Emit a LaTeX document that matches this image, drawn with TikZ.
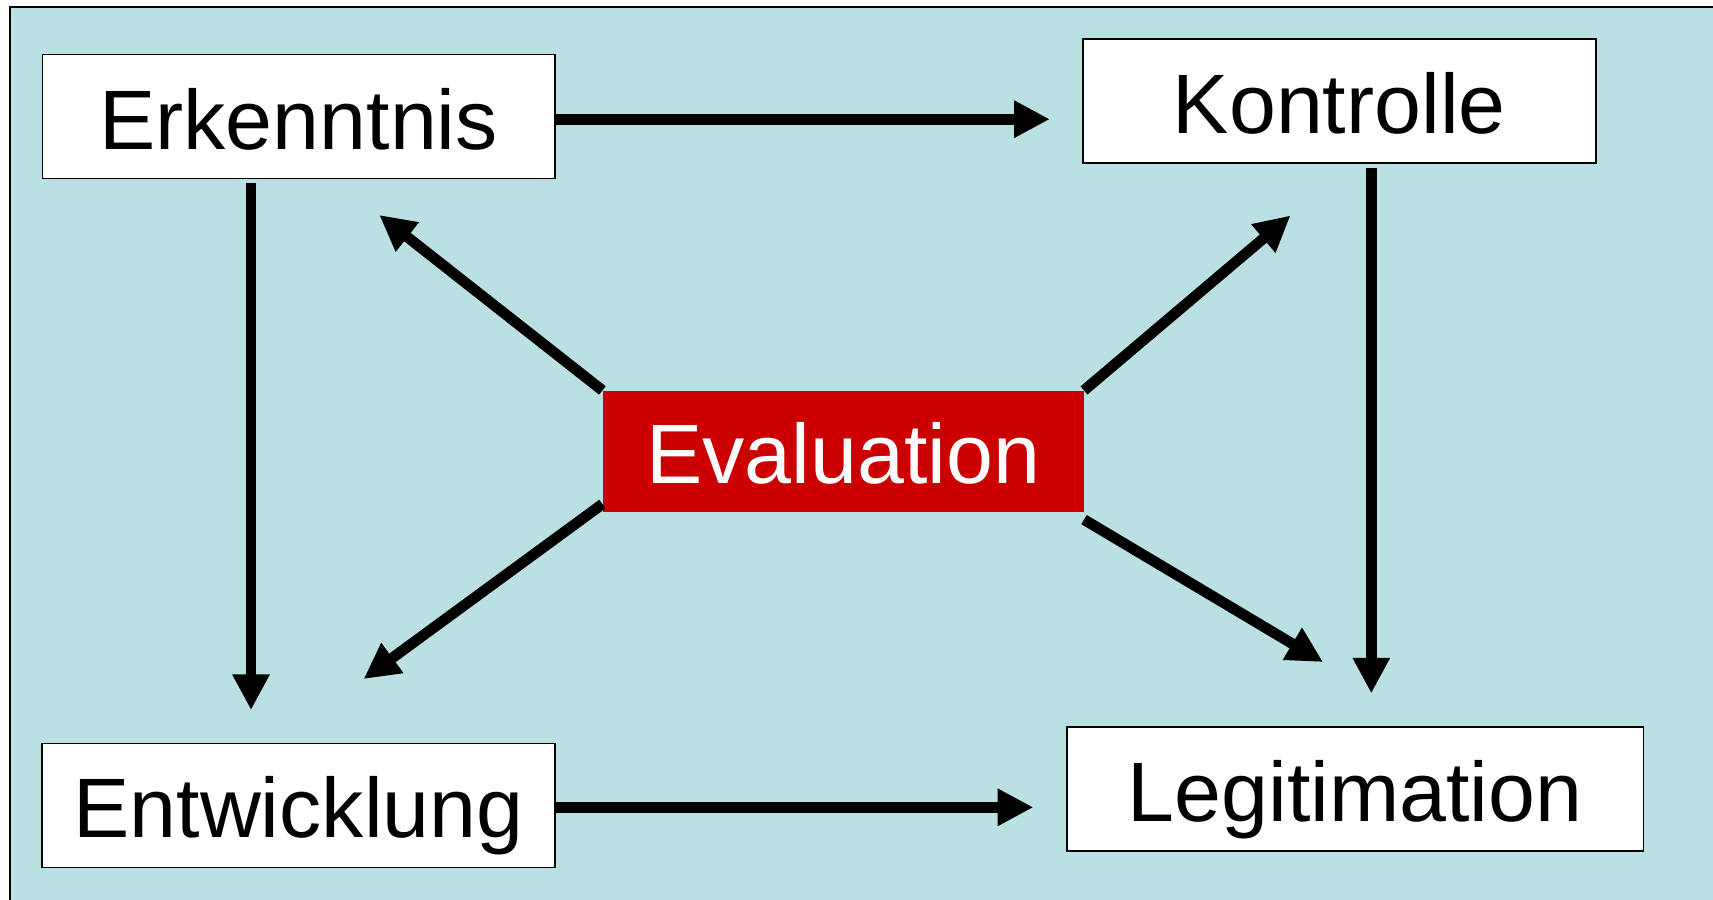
\documentclass[tikz,border=0pt]{standalone}
\usepackage{fontspec}
\setmainfont{Liberation Sans}
\usepackage{tikz}
\usetikzlibrary{arrows.meta}
\definecolor{hellblau}{RGB}{187,224,227}
\definecolor{evalrot}{RGB}{204,0,0}

\begin{document}
\begin{tikzpicture}[x=0.02cm, y=-0.02cm,
	kasten/.style={draw=black, line width=0.03cm, fill=white, inner sep=0pt,
		minimum height=2.48cm, text height=36.8pt, text depth=0pt,
		font=\fontsize{48}{58}\selectfont},
	pfeil/.style={line width=0.214cm, -{Triangle[length=0.714cm, width=0.7cm]}}]
		%%%%% START %%%%%
		
		\useasboundingbox (0,0) rectangle (1713,899);
		\clip (0,0) rectangle (1713,899);
		
		\draw[line width=0.026cm, fill=hellblau] (10,7) rectangle (1760,950);
		
		\node[kasten, minimum width=10.25cm] (erk) at (298.7,116.7) {Erkenntnis};
		\node[kasten, minimum width=10.26cm] (kon) at (1339.3,100.8) {Kontrolle};
		\node[kasten, minimum width=10.26cm] (ent) at (298.5,805.3) {Entwicklung};
		\node[kasten, minimum width=11.53cm] (leg) at (1355.1,789.2) {Legitimation};
		
		\node[fill=evalrot, text=white, inner sep=0pt, minimum width=9.62cm, minimum height=2.43cm,
			text height=36.8pt, text depth=0pt, font=\fontsize{48}{58}\selectfont] (eval) at (843.2,451.5) {Evaluation};
		
		\draw[pfeil, shorten >=0.646cm] ([yshift=-0.05cm]erk.east) -- ([yshift=-0.05cm]erk.east -| kon.west);
		\draw[pfeil, shorten >=0.656cm] ([yshift=-0.04cm]ent.east) -- ([yshift=-0.04cm]ent.east -| leg.west);
		\draw[pfeil, shorten <=0.08cm, shorten >=0.65cm] ([xshift=-0.954cm]erk.south) -- ([xshift=-0.954cm]erk.south |- ent.north);
		\draw[pfeil, shorten <=0.09cm, shorten >=0.66cm] ([xshift=0.64cm]kon.south) -- ([xshift=0.64cm]kon.south |- leg.north);
		
		\coordinate (zuErk) at (379.3,215);
		\coordinate (zuKon) at (1290.5,215.5);
		\coordinate (zuEnt) at (363.6,679);
		\coordinate (zuLeg) at (1323,662);
		
		\draw[pfeil] (eval.north west) -- (zuErk);
		\draw[pfeil] (eval.north east) -- (zuKon);
		\draw[pfeil] ([yshift=0.17cm]eval.south west) -- (zuEnt);
		\draw[pfeil] ([yshift=-0.14cm]eval.south east) -- (zuLeg);
		
		%%%%% END %%%%%
	\end{tikzpicture}
\end{document}
